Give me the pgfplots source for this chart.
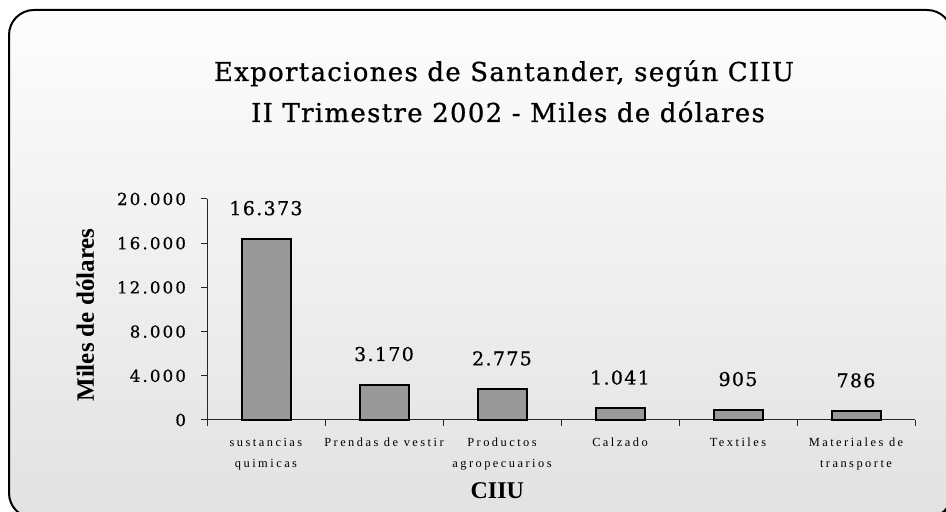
\documentclass[border=0pt]{standalone}
\usepackage{fontspec}
\setmainfont{DejaVu Serif}
\newfontfamily\titlefont[LetterSpace=5,FakeBold=0.8]{DejaVu Serif}
\newfontfamily\tickfont[LetterSpace=13,FakeBold=0.6]{DejaVu Serif}
\newfontfamily\valfont[LetterSpace=7,FakeBold=0.6]{DejaVu Serif}
\newfontfamily\catfont[LetterSpace=20]{Liberation Serif}
\newfontfamily\labfont{Liberation Serif}
\usepackage{pgfplots}
\pgfplotsset{compat=1.18}
\definecolor{bargray}{RGB}{153,153,153}
\definecolor{bgtop}{RGB}{253,253,253}
\definecolor{bgbot}{RGB}{226,226,226}
\begin{document}
\begin{tikzpicture}
\useasboundingbox (0,0) rectangle (473pt,256pt);
\fill[white] (0,0) rectangle (473pt,256pt);
\fill[black, rounded corners=12.5pt] (7pt,-6pt) rectangle (478.5pt,249pt);
\shadedraw[top color=bgtop, bottom color=bgbot, rounded corners=12.5pt, draw=black, line width=1pt] (4.5pt,-3pt) rectangle (476pt,251pt);
\node[anchor=base, font=\titlefont\fontsize{13}{15}\selectfont, inner sep=0pt] at (252pt,215.5pt) {Exportaciones de Santander, según CIIU};
\node[anchor=base, font=\titlefont\fontsize{13}{15}\selectfont, inner sep=0pt] at (254pt,195pt) {II Trimestre 2002 - Miles de dólares};
\begin{axis}[
  at={(103.5pt,46pt)}, anchor=south west,
  scale only axis, width=354pt, height=110.5pt,
  xmin=0, xmax=6, ymin=0, ymax=20000,
  axis x line=bottom, axis y line=left,
  axis line style={-, line width=0.5pt, black!85},
  xtick={0,1,...,6},
  x tick label as interval,
  xticklabels={{sustancias\\quimicas},{Prendas de vestir},{Productos\\agropecuarios},{Calzado},{Textiles},{Materiales de\\transporte}},
  xticklabel style={font=\catfont\fontsize{6.2}{10.5}\selectfont, align=center, anchor=north, yshift=-2.5pt},
  ytick={0,4000,...,20000},
  scaled y ticks=false,
  yticklabel style={font=\tickfont\fontsize{8.3}{10}\selectfont, xshift=-4pt},
  /pgf/number format/fixed,
  /pgf/number format/1000 sep={.},
  /pgf/number format/assume math mode=true,
  major tick length=3pt, tick align=outside,
  tick style={black!85, line width=0.5pt},
  ybar, bar width=24.5pt,
  nodes near coords={\pgfmathprintnumber[fixed,1000 sep={.},assume math mode=true]{\pgfplotspointmeta}},
  every node near coord/.append style={font=\valfont\fontsize{9.5}{11}\selectfont, anchor=base, yshift=12pt},
  xlabel={CIIU},
  xlabel style={at={(axis description cs:0.41,-0.357)}, anchor=base, font=\labfont\bfseries\fontsize{12}{13}\selectfont},
  ylabel={Miles de dólares},
  ylabel style={at={(axis description cs:-0.172,0.475)}, anchor=center, font=\labfont\bfseries\fontsize{12.5}{13}\selectfont},
  clip=false,
]
\addplot[fill=bargray, draw=black, line width=1pt] coordinates {(0.5,16373) (1.5,3170) (2.5,2775) (3.5,1041) (4.5,905) (5.5,786)};
\end{axis}
\end{tikzpicture}
\end{document}
